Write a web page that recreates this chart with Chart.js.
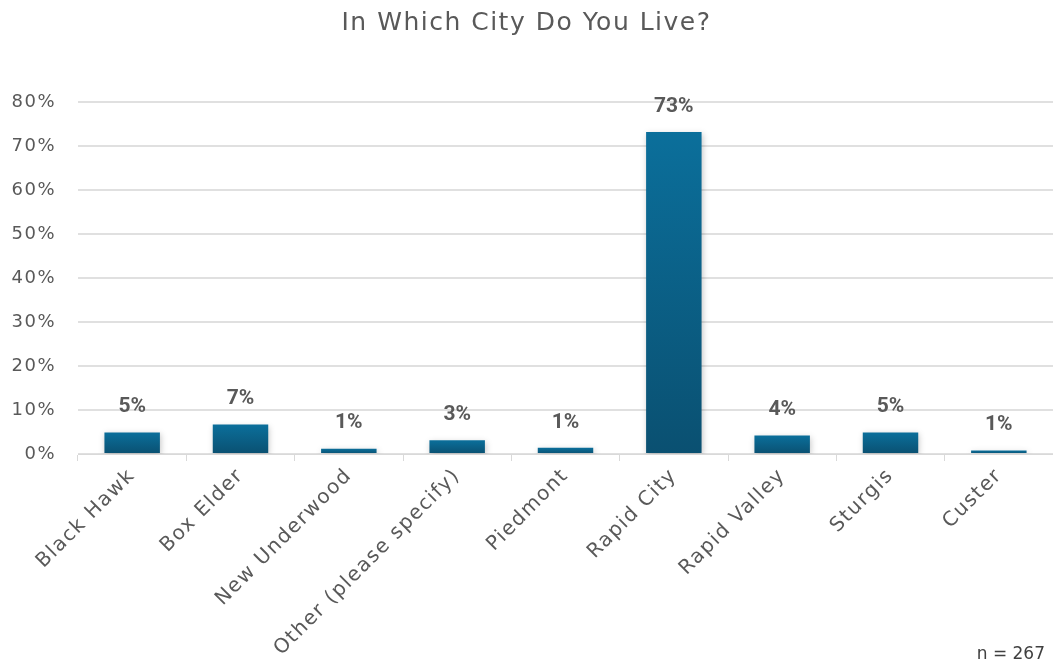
<!DOCTYPE html>
<html>
<head>
<meta charset="utf-8">
<script src="https://cdn.jsdelivr.net/npm/chart.js@4.4.1/dist/chart.umd.min.js"></script>
<style>
  html, body { margin: 0; padding: 0; background: #fff; }
  #wrap { position: relative; width: 1053px; height: 666px; }
  #note { position: absolute; right: 8px; bottom: 3px; font: 17px "DejaVu Sans", sans-serif; color: #404040; }
</style>
</head>
<body>
<div id="wrap">
  <canvas id="canvas" width="1053" height="666"></canvas>
  <div id="note">n = 267</div>
</div>
<script>
var cities = ['Black Hawk', 'Box Elder', 'New Underwood', 'Other (please specify)', 'Piedmont', 'Rapid City', 'Rapid Valley', 'Sturgis', 'Custer'];
var shares = [4.9, 6.7, 1.2, 3.1, 1.4, 73.2, 4.2, 4.9, 0.8];
var yTicks = [0, 10, 20, 30, 40, 50, 60, 70, 80];

var grey = '#595959';

// wider text for title and axes (reference uses a wide geometric face)
var wideText = {
    id: 'wideText',
    beforeDraw: function(chart) { chart.ctx.letterSpacing = '1.5px'; },
    beforeDatasetsDraw: function(chart) { chart.ctx.letterSpacing = '0px'; }
};

// soft shadow under the bars
var barShadow = {
    id: 'barShadow',
    beforeDatasetsDraw: function(chart) {
        var ctx = chart.ctx;
        ctx.save();
        ctx.shadowColor = 'rgba(0,0,0,0.22)';
        ctx.shadowBlur = 6;
        ctx.shadowOffsetX = 1;
        ctx.shadowOffsetY = 2;
    },
    afterDatasetsDraw: function(chart) {
        chart.ctx.restore();
    }
};

// bar value labels on top
var valueLabels = {
    id: 'valueLabels',
    afterDatasetsDraw: function(chart) {
        var ctx = chart.ctx;
        var meta = chart.getDatasetMeta(0);
        ctx.save();
        ctx.letterSpacing = '0px';
        ctx.font = 'bold 21px Roboto, sans-serif';
        ctx.fillStyle = grey;
        ctx.textAlign = 'center';
        ctx.textBaseline = 'bottom';
        meta.data.forEach(function(bar, i) {
            ctx.fillText(Math.round(shares[i]) + '%', bar.x, bar.y - 15);
        });
        ctx.restore();
    }
};

// each bar gets its own top-to-bottom gradient
function barFill(context) {
    var chart = context.chart;
    var area = chart.chartArea;
    if (!area || context.type !== 'data') return '#0a6390';
    var yScale = chart.scales.y;
    var top = yScale.getPixelForValue(context.parsed.y);
    var bottom = yScale.getPixelForValue(0);
    if (bottom - top < 1) top = bottom - 1;
    var g = chart.ctx.createLinearGradient(0, top, 0, bottom);
    g.addColorStop(0, '#0b6f9b');
    g.addColorStop(1, '#0a5071');
    return g;
}

new Chart(document.getElementById('canvas').getContext('2d'), {
    type: 'bar',
    data: {
        labels: cities,
        datasets: [{
            data: shares,
            backgroundColor: barFill,
            borderWidth: 0,
            barPercentage: 0.64,
            categoryPercentage: 0.8
        }]
    },
    options: {
        responsive: false,
        animation: false,
        layout: { padding: 0 },
        plugins: {
            legend: { display: false },
            tooltip: { enabled: false },
            title: {
                display: true,
                text: 'In Which City Do You Live?',
                color: grey,
                font: { family: 'DejaVu Sans', size: 25, weight: 'normal' },
                padding: { top: 8, bottom: 64 }
            }
        },
        scales: {
            x: {
                afterFit: function(scale) { scale.height = 212; },
                grid: { display: true, drawOnChartArea: false, color: '#d9d9d9', tickLength: 7, offset: true },
                border: { color: '#d9d9d9' },
                ticks: {
                    color: grey,
                    font: { family: 'DejaVu Sans', size: 20 },
                    minRotation: 45,
                    maxRotation: 45,
                    autoSkip: false
                }
            },
            y: {
                min: 0,
                max: 80,
                afterFit: function(scale) { scale.width = 78; },
                afterBuildTicks: function(scale) {
                    scale.ticks = yTicks.map(function(v) { return { value: v }; });
                },
                grid: { color: '#e0e0e0', lineWidth: 2, drawTicks: false },
                border: { display: false },
                ticks: {
                    color: grey,
                    padding: 22,
                    font: { family: 'DejaVu Sans', size: 18 },
                    callback: function(v) { return v + '%'; }
                }
            }
        }
    },
    plugins: [wideText, barShadow, valueLabels]
});
</script>
</body>
</html>
